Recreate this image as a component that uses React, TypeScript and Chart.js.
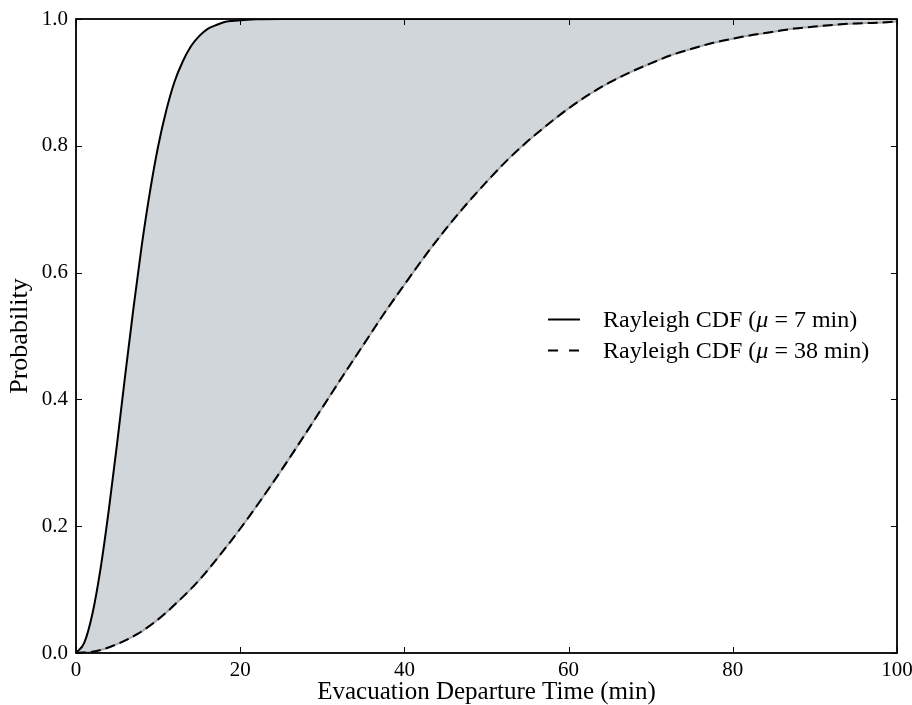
import React, { useEffect, useRef } from "react";
import { Chart, registerables } from "chart.js";

Chart.register(...registerables);

// Rayleigh CDF, mean 7 min
const fastX = [0, 1, 2, 3, 4, 5, 6, 7, 8, 9, 10, 11, 12, 13, 14, 15, 16, 17, 18, 19, 20, 22, 25, 30, 40, 50, 60, 70, 80, 90, 100];
const fastY = [0, 0.016, 0.062, 0.134, 0.226, 0.330, 0.439, 0.544, 0.642, 0.727, 0.799, 0.856, 0.901, 0.933, 0.957, 0.973, 0.984, 0.990, 0.995, 0.997, 0.998, 0.9996, 1.0, 1.0, 1.0, 1.0, 1.0, 1.0, 1.0, 1.0, 1.0];

// Rayleigh CDF, mean 38 min
const slowX = [0, 2.5, 5, 7.5, 10, 12.5, 15, 17.5, 20, 22.5, 25, 27.5, 30, 32.5, 35, 37.5, 40, 42.5, 45, 47.5, 50, 52.5, 55, 57.5, 60, 62.5, 65, 67.5, 70, 72.5, 75, 77.5, 80, 82.5, 85, 87.5, 90, 92.5, 95, 97.5, 100];
const slowY = [0, 0.003, 0.014, 0.030, 0.053, 0.082, 0.115, 0.154, 0.196, 0.241, 0.288, 0.337, 0.387, 0.437, 0.486, 0.535, 0.581, 0.626, 0.668, 0.707, 0.743, 0.777, 0.807, 0.834, 0.859, 0.881, 0.900, 0.916, 0.930, 0.943, 0.953, 0.962, 0.969, 0.975, 0.980, 0.985, 0.988, 0.991, 0.993, 0.994, 0.996];

const xTicks = [0, 20, 40, 60, 80, 100];
const yTicks = [0, 0.2, 0.4, 0.6, 0.8, 1.0];

const legendLabels = [
  { pre: "Rayleigh CDF (", sym: "\u03BC", post: " = 7 min)", dash: [] as number[] },
  { pre: "Rayleigh CDF (", sym: "\u03BC", post: " = 38 min)", dash: [10, 11] },
];

const SERIF = "'Liberation Serif', 'Times New Roman', serif";

const toPts = (xs: number[], ys: number[]) => xs.map((x, i) => ({ x, y: ys[i] }));

const frameTicksPlugin = {
  id: "frameTicks",
  afterDatasetsDraw(chart: any) {
    const { ctx, chartArea: a, scales } = chart;
    const xs = scales.x;
    const ys = scales.y;
    ctx.save();
    ctx.strokeStyle = "#000";
    ctx.lineWidth = 1;
    const len = 6;
    ctx.beginPath();
    xTicks.forEach((v) => {
      const px = Math.round(xs.getPixelForValue(v)) + 0.5;
      ctx.moveTo(px, a.bottom);
      ctx.lineTo(px, a.bottom - len);
      ctx.moveTo(px, a.top);
      ctx.lineTo(px, a.top + len);
    });
    yTicks.forEach((v) => {
      const py = Math.round(ys.getPixelForValue(v)) + 0.5;
      ctx.moveTo(a.left, py);
      ctx.lineTo(a.left + len, py);
      ctx.moveTo(a.right, py);
      ctx.lineTo(a.right - len, py);
    });
    ctx.stroke();
    ctx.lineWidth = 1.8;
    ctx.strokeRect(a.left, a.top, a.right - a.left, a.bottom - a.top);
    ctx.restore();
  },
};

const legendPlugin = {
  id: "customLegend",
  afterDraw(chart: any) {
    const { ctx } = chart;
    const x0 = 548;
    const x1 = 580;
    const tx = 603;
    const rows = [319, 350];
    ctx.save();
    legendLabels.forEach((l, i) => {
      const y = rows[i];
      ctx.strokeStyle = "#000";
      ctx.lineWidth = 2;
      ctx.setLineDash(l.dash);
      ctx.beginPath();
      ctx.moveTo(x0, y + 0.5);
      ctx.lineTo(x1, y + 0.5);
      ctx.stroke();
      ctx.setLineDash([]);
      ctx.fillStyle = "#000";
      ctx.textBaseline = "middle";
      ctx.textAlign = "left";
      let cx = tx;
      ctx.font = `24px ${SERIF}`;
      ctx.fillText(l.pre, cx, y + 2);
      cx += ctx.measureText(l.pre).width;
      ctx.font = `italic 24px ${SERIF}`;
      ctx.fillText(l.sym, cx, y + 2);
      cx += ctx.measureText(l.sym).width;
      ctx.font = `24px ${SERIF}`;
      ctx.fillText(l.post, cx, y + 2);
    });
    ctx.restore();
  },
};

export default function App() {
  const ref = useRef<HTMLCanvasElement | null>(null);

  useEffect(() => {
    if (!ref.current) return;
    const chart = new Chart(ref.current, {
      type: "line",
      data: {
        datasets: [
          {
            label: "edge",
            data: toPts(slowX, slowY),
            borderColor: "#a9a9a9",
            borderWidth: 2,
            pointRadius: 0,
            cubicInterpolationMode: "monotone",
            fill: false,
            order: 3,
          },
          {
            label: "Rayleigh CDF (\u03BC = 38 min)",
            data: toPts(slowX, slowY),
            borderColor: "#000",
            borderWidth: 2,
            borderDash: [10, 5],
            pointRadius: 0,
            cubicInterpolationMode: "monotone",
            fill: false,
            order: 2,
          },
          {
            label: "Rayleigh CDF (\u03BC = 7 min)",
            data: toPts(fastX, fastY),
            borderColor: "#000",
            borderWidth: 2,
            pointRadius: 0,
            cubicInterpolationMode: "monotone",
            fill: { target: 0 },
            backgroundColor: "rgb(209,214,219)",
            order: 1,
          },
        ],
      },
      options: {
        animation: false,
        responsive: false,
        devicePixelRatio: 1,
        layout: { padding: { top: 19, right: 15, left: 0, bottom: 0 } },
        plugins: {
          legend: { display: false },
          tooltip: { enabled: false },
          filler: { drawTime: "beforeDatasetsDraw" },
        },
        scales: {
          x: {
            type: "linear",
            min: 0,
            max: 100,
            grid: { display: false, drawTicks: false },
            border: { display: false },
            afterBuildTicks: (s: any) => {
              s.ticks = xTicks.map((v) => ({ value: v }));
            },
            afterFit: (s: any) => {
              s.height = 52;
              s.paddingRight = 0;
              s.paddingLeft = 0;
            },
            ticks: {
              padding: 5,
              color: "#000",
              font: { family: SERIF, size: 21 },
              maxRotation: 0,
              callback: (v: any) => String(v),
            },
            title: {
              display: true,
              text: "Evacuation Departure Time (min)",
              color: "#000",
              font: { family: SERIF, size: 25, lineHeight: 1 },
              padding: { top: 0, bottom: 0 },
            },
          },
          y: {
            type: "linear",
            min: 0,
            max: 1,
            grid: { display: false, drawTicks: false },
            border: { display: false },
            afterBuildTicks: (s: any) => {
              s.ticks = yTicks.map((v) => ({ value: v }));
            },
            afterFit: (s: any) => {
              s.width = 76;
              s.paddingTop = 0;
              s.paddingBottom = 0;
            },
            ticks: {
              padding: 8,
              color: "#000",
              font: { family: SERIF, size: 21 },
              callback: (v: any) => Number(v).toFixed(1),
            },
            title: {
              display: true,
              text: "Probability",
              color: "#000",
              font: { family: SERIF, size: 26, lineHeight: 1 },
              padding: { top: 7, bottom: 0 },
            },
          },
        },
      },
      plugins: [frameTicksPlugin, legendPlugin],
    });
    return () => chart.destroy();
  }, []);

  return (
    <div style={{ position: "fixed", left: 0, top: 0, width: 912, height: 705, background: "#fff" }}>
      <canvas ref={ref} width={912} height={705} style={{ width: 912, height: 705 }} />
    </div>
  );
}
